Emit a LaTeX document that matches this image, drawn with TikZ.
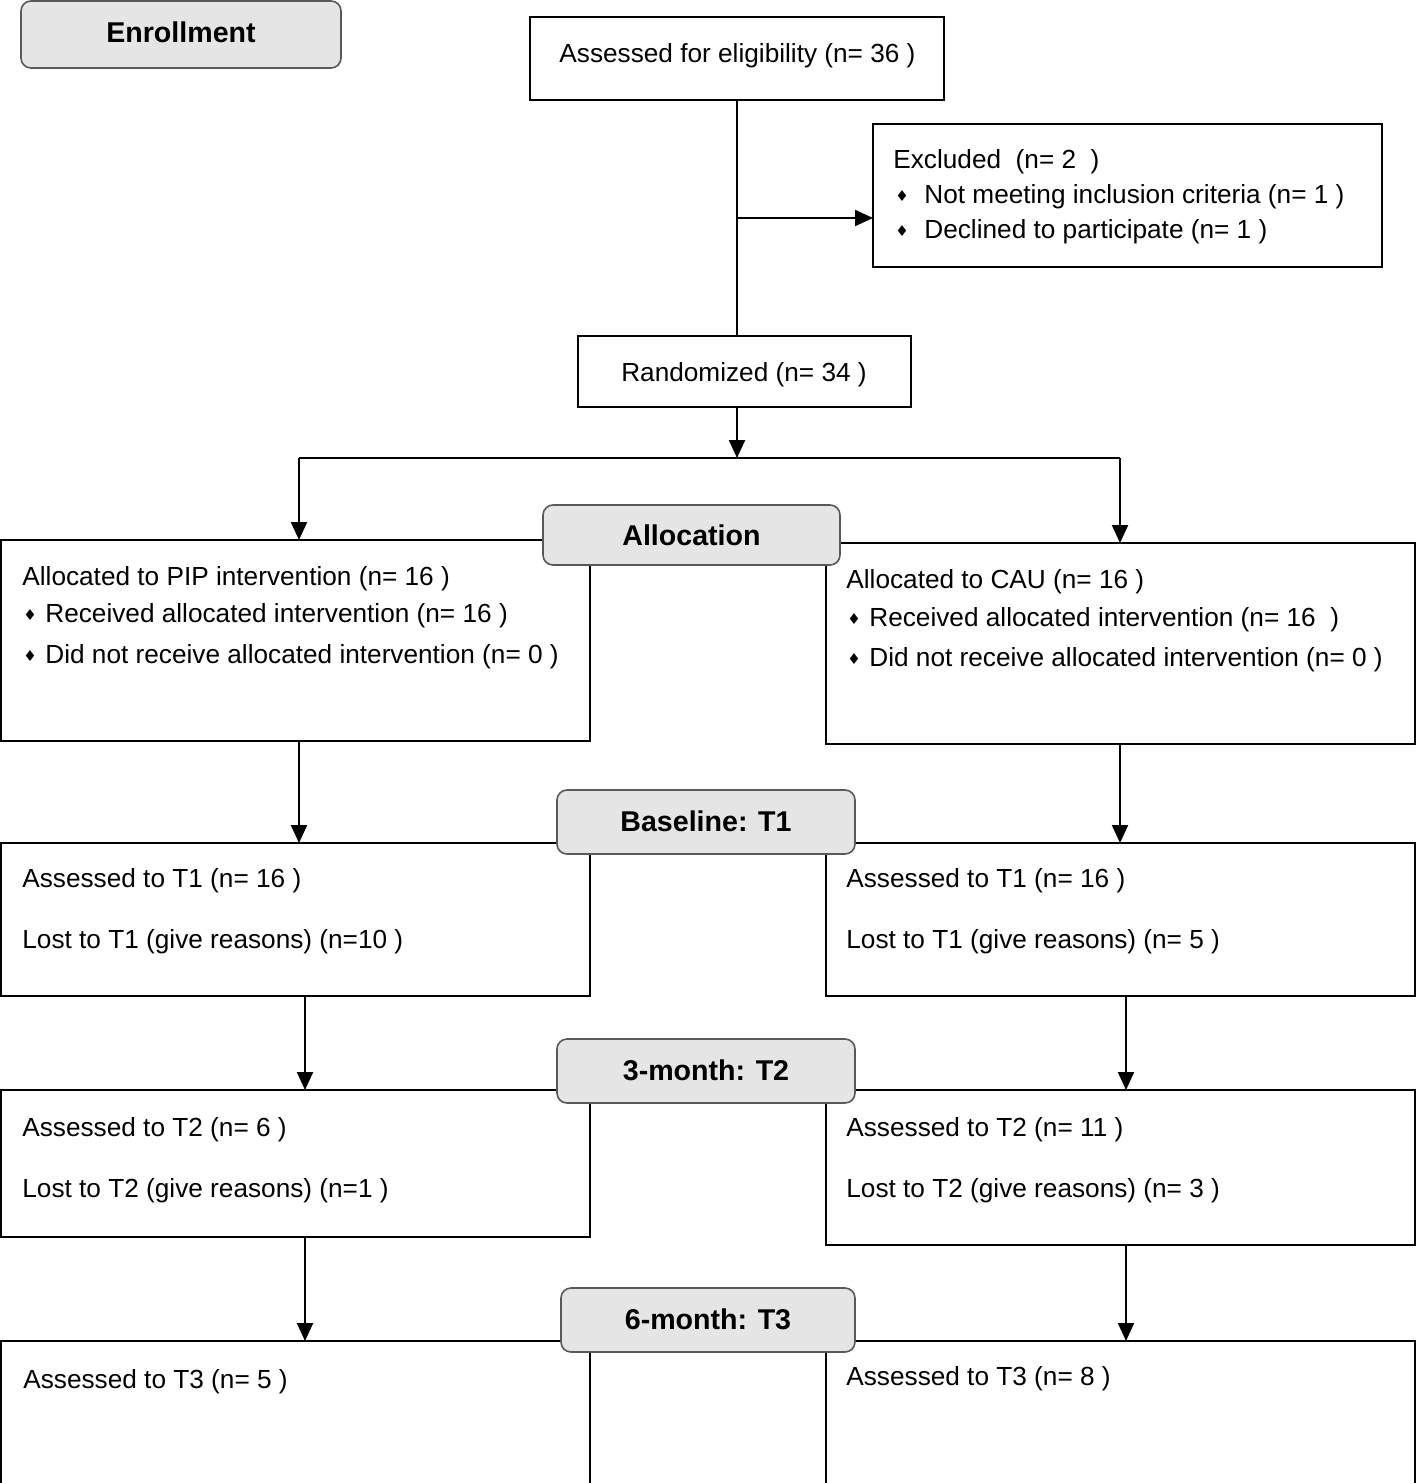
\documentclass[tikz,border=0pt]{standalone}
\usepackage{fontspec}
\setmainfont{Liberation Sans}
\newfontfamily\dejavu{DejaVu Sans}
\usetikzlibrary{arrows.meta}
\begin{document}
\begin{tikzpicture}[x=0.5pt,y=-0.5pt,
  box/.style={draw, line width=1.1pt, rectangle, inner sep=0pt, outer sep=0pt, anchor=north west},
  lab/.style={draw=black!65, fill=black!10, rounded corners=5pt, line width=0.8pt,
    font=\fontsize{14.3}{16}\selectfont\bfseries, inner sep=0pt, outer sep=0pt},
  txt/.style={anchor=base west, inner sep=0pt, font=\fontsize{13.1}{15}\selectfont},
  ctxt/.style={anchor=base, inner sep=0pt, font=\fontsize{13.1}{15}\selectfont},
  bul/.style={inner sep=0pt, font=\dejavu\fontsize{7.5}{8}\selectfont},
  arr/.style={-{Triangle[length=9pt,width=8pt]}, line width=1.1pt},
  ln/.style={line width=1.1pt}]
\clip (0,0) rectangle (1416,1483);
\fill[white] (0,0) rectangle (1416,1483);

% boxes
\node[box, minimum width=207pt, minimum height=41.5pt] (assess) at (530,17) {};
\node[box, minimum width=254.5pt, minimum height=71.5pt] (excl) at (873,124) {};
\node[box, minimum width=166.5pt, minimum height=35.5pt] (rand) at (578,336) {};
\node[box, minimum width=294.5pt, minimum height=100.5pt] (allocL) at (1,540) {};
\node[box, minimum width=294.5pt, minimum height=100.5pt] (allocR) at (826,543) {};
\node[box, minimum width=294.5pt, minimum height=76.5pt] (t1L) at (1,843) {};
\node[box, minimum width=294.5pt, minimum height=76.5pt] (t1R) at (826,843) {};
\node[box, minimum width=294.5pt, minimum height=73.5pt] (t2L) at (1,1090) {};
\node[box, minimum width=294.5pt, minimum height=77.5pt] (t2R) at (826,1090) {};
\node[box, minimum width=294.5pt, minimum height=100pt] (t3L) at (1,1341) {};
\node[box, minimum width=294.5pt, minimum height=100pt] (t3R) at (826,1341) {};

% connectors
\coordinate (j1) at (737,218);
\coordinate (split) at (737,458);
\coordinate (sL) at (299,458);
\coordinate (sR) at (1120,458);
\coordinate (xL) at (305,0);
\coordinate (xR) at (1126,0);
\draw[ln] (j1 |- assess.south) -- (j1 |- rand.north);
\draw[arr] (j1) -- (j1 -| excl.west);
\draw[arr] (split |- rand.south) -- (split);
\draw[ln] (sL) -- (sR);
\draw[arr] (sL) -- (sL |- allocL.north);
\draw[arr] (sR) -- (sR |- allocR.north);
\draw[arr] (sL |- allocL.south) -- (sL |- t1L.north);
\draw[arr] (sR |- allocR.south) -- (sR |- t1R.north);
\draw[arr] (xL |- t1L.south) -- (xL |- t2L.north);
\draw[arr] (xR |- t1R.south) -- (xR |- t2R.north);
\draw[arr] (xL |- t2L.south) -- (xL |- t3L.north);
\draw[arr] (xR |- t2R.south) -- (xR |- t3R.north);

% stage labels
\node[lab, minimum width=160pt, minimum height=33.5pt] (enr) at (181,34.5) {\raisebox{2.5pt}{Enrollment}};
\node[lab, minimum width=148.5pt, minimum height=30pt] (alloc) at (691.5,535) {Allocation};
\node[lab, minimum width=149pt, minimum height=32pt] (base) at (706,822) {\raisebox{1pt}{Baseline: T1}};
\node[lab, minimum width=149pt, minimum height=32pt] (m3) at (706,1071) {\raisebox{1pt}{3-month: T2}};
\node[lab, minimum width=147pt, minimum height=32pt] (m6) at (708,1320) {\raisebox{1pt}{6-month: T3}};

% texts
\node[ctxt] (tA) at (737.5,62) {Assessed for eligibility (n= 36 )};
\node[txt] (tE1) at (893,168) {Excluded\ \ (n= 2\ \ )};
\node[bul] (bE2) at (902,196) {♦};
\node[txt] (tE2) at (924,203) {Not meeting inclusion criteria (n= 1 )};
\node[bul] (bE3) at (902,231) {♦};
\node[txt] (tE3) at (924,238) {Declined to participate (n= 1 )};
\node[ctxt] (tR) at (744,381) {Randomized (n= 34 )};

\node[txt] (tAL1) at (22,585) {Allocated to PIP intervention (n= 16 )};
\node[bul] (bAL2) at (30,615) {♦};
\node[txt] (tAL2) at (45,622) {Received allocated intervention (n= 16 )};
\node[bul] (bAL3) at (30,656) {♦};
\node[txt] (tAL3) at (45,663) {Did not receive allocated intervention (n= 0 )};

\node[txt] (tAR1) at (846,588) {Allocated to CAU (n= 16 )};
\node[bul] (bAR2) at (854,619) {♦};
\node[txt] (tAR2) at (869,626) {Received allocated intervention (n= 16\ \ )};
\node[bul] (bAR3) at (854,659) {♦};
\node[txt] (tAR3) at (869,666) {Did not receive allocated intervention (n= 0 )};

\node[txt] (t1L1) at (22,887) {Assessed to T1 (n= 16 )};
\node[txt] (t1L2) at (22,948) {Lost to T1 (give reasons) (n=10 )};
\node[txt] (t1R1) at (846,887) {Assessed to T1 (n= 16 )};
\node[txt] (t1R2) at (846,948) {Lost to T1 (give reasons) (n= 5 )};

\node[txt] (t2L1) at (22,1136) {Assessed to T2 (n= 6 )};
\node[txt] (t2L2) at (22,1197) {Lost to T2 (give reasons) (n=1 )};
\node[txt] (t2R1) at (846,1136) {Assessed to T2 (n= 11 )};
\node[txt] (t2R2) at (846,1197) {Lost to T2 (give reasons) (n= 3 )};

\node[txt] (t3L1) at (23,1388) {Assessed to T3 (n= 5 )};
\node[txt] (t3R1) at (846,1385) {Assessed to T3 (n= 8 )};
\end{tikzpicture}
\end{document}
